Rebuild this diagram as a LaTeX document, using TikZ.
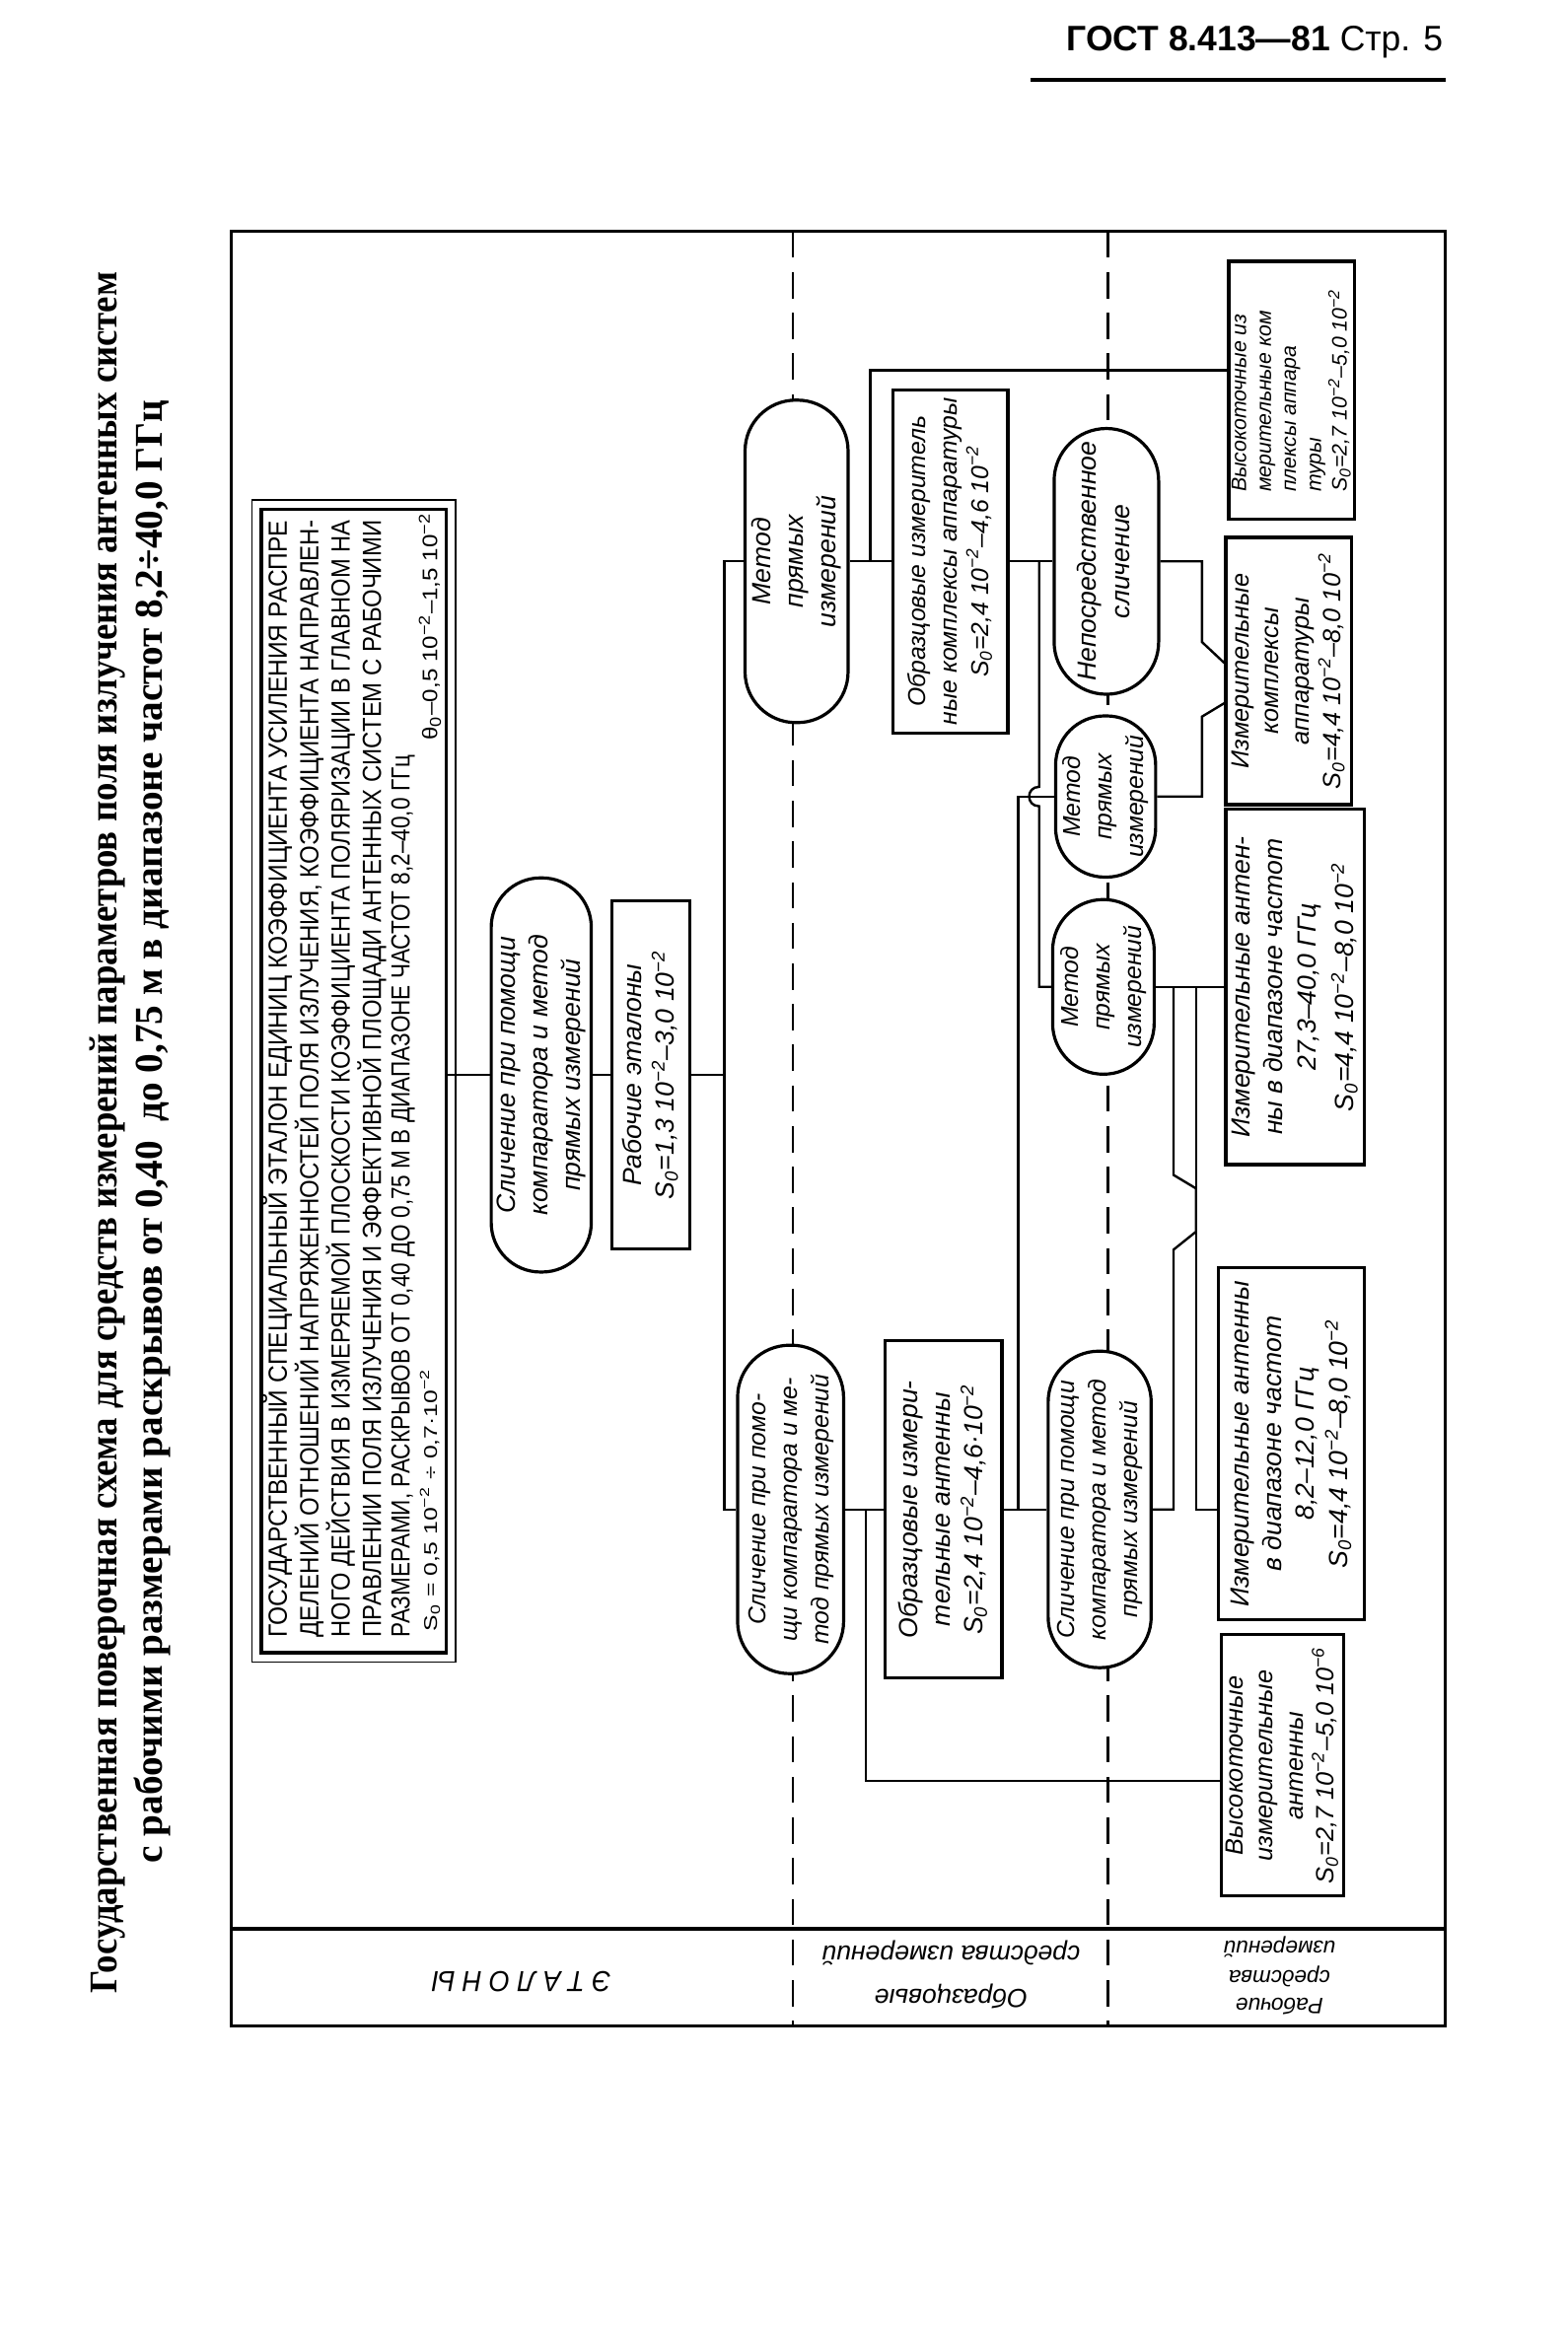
\documentclass[tikz,border=0pt]{standalone}
\usepackage{fontspec}
\usepackage{graphicx}
\setmainfont{Liberation Serif}
\newfontfamily\gostfam{Liberation Sans}
\newcommand\gost{\gostfam\itshape}
\newfontfamily\gostup{Liberation Sans}
\newfontfamily\hdr{Liberation Sans}
\newcommand\fitw[2]{\resizebox{#1}{\height}{#2}}
\newcommand\U[1]{\dimexpr 0.2mm*#1\relax}
\newcommand\sm[1]{\textsuperscript{−#1}}
\newcommand\So{S\textsubscript{0}}
\newcommand\rt[1]{\rotatebox{90}{\begin{tabular}{@{}c@{}}#1\end{tabular}}}
\newcommand\rtl[1]{\rotatebox{90}{\begin{tabular}{@{}l@{}}#1\end{tabular}}}
\def\uu{0.2mm}
\begin{document}
\begin{tikzpicture}[x=0.2mm,y=-0.2mm,
  bx/.style={draw,line width=1.2pt,fill=white,inner sep=0pt,font=\gost\fontsize{10}{12.5}\selectfont},
  ov/.style={bx,rounded corners=#1*\uu},
  sm/.style={font=\gost\fontsize{9.3}{12}\selectfont},
  ln/.style={line width=0.9pt},
  frm/.style={line width=1.3pt},
  dsh/.style={line width=1pt,dash pattern=on 10pt off 5.5pt},
  lab/.style={inner sep=0pt,rotate=180,font=\gost\fontsize{10}{12}\selectfont},
  mtxt/.style={inner sep=0pt,anchor=south,font=\gostup\fontsize{10}{12}\selectfont},
]
\fill[white] (0,0) rectangle (1050,1568);
\useasboundingbox (0,0) rectangle (1050,1568);

% header
\node[inner sep=0pt,anchor=base west,font=\hdr\fontsize{13.5}{14}\selectfont] (hd) at (714,34) {\fitw{\U{252}}{\bfseries ГОСТ 8.413—81 \mdseries Стр. 5}};
\draw[line width=1.7pt] (690,53.5) -- (968,53.5);

% title
\node[inner sep=0pt,font=\bfseries\fontsize{15}{16}\selectfont] (t1) at (72,758.5) {\rotatebox{90}{\fitw{\U{1153}}{Государственная поверочная схема для средств измерений параметров поля излучения антенных систем}}};
\node[inner sep=0pt,font=\bfseries\fontsize{15}{16}\selectfont] (t2) at (102,758) {\rotatebox{90}{\fitw{\U{980}}{с рабочими размерами раскрывов от 0,40~~до 0,75 м в диапазоне частот 8,2÷40,0 ГГц}}};

% frame
\draw[dsh] (531,155) -- (531,1357);
\draw[dsh] (742,155) -- (742,1357);
\draw[frm] (155,155) rectangle (968,1357);
\draw[frm] (155,1292) -- (968,1292);

% row labels (upside down)
\node[lab,font=\gost\fontsize{11}{12}\selectfont] (l1) at (349,1327) {\fitw{\U{120}}{Э Т А Л О Н Ы}};
\node[lab] (l2a) at (637,1308) {средства измерений};
\node[lab] (l2b) at (637,1337) {Образцовые};
\node[lab,font=\gost\fontsize{8.5}{10}\selectfont] (l3a) at (857,1304) {измерений};
\node[lab,font=\gost\fontsize{8.5}{10}\selectfont] (l3b) at (857,1324) {средства};
\node[lab,font=\gost\fontsize{8.5}{10}\selectfont] (l3c) at (857,1344) {Рабочие};

% main standard
\node[draw,line width=1.3pt,inner sep=0pt,minimum width=124*\uu,minimum height=766*\uu] (main) at (237,724) {};
\draw[line width=0.5pt] ([shift={(-5,-5)}]main.north west) rectangle ([shift={(5,5)}]main.south east);
\node[mtxt] (m1) at (186,1097) {\rotatebox{90}{\fitw{\U{748}}{ГОСУДАРСТВЕННЫЙ СПЕЦИАЛЬНЫЙ ЭТАЛОН ЕДИНИЦ КОЭФФИЦИЕНТА УСИЛЕНИЯ РАСПРЕ}}};
\node[mtxt] (m2) at (207,1097) {\rotatebox{90}{\fitw{\U{748}}{ДЕЛЕНИЙ ОТНОШЕНИЙ НАПРЯЖЕННОСТЕЙ ПОЛЯ ИЗЛУЧЕНИЯ, КОЭФФИЦИЕНТА НАПРАВЛЕН-}}};
\node[mtxt] (m3) at (228,1097) {\rotatebox{90}{\fitw{\U{748}}{НОГО ДЕЙСТВИЯ В ИЗМЕРЯЕМОЙ ПЛОСКОСТИ КОЭФФИЦИЕНТА ПОЛЯРИЗАЦИИ В ГЛАВНОМ НА}}};
\node[mtxt] (m4) at (249,1097) {\rotatebox{90}{\fitw{\U{748}}{ПРАВЛЕНИИ ПОЛЯ ИЗЛУЧЕНИЯ И ЭФФЕКТИВНОЙ ПЛОЩАДИ АНТЕННЫХ СИСТЕМ С РАБОЧИМИ}}};
\node[mtxt] (m5) at (270,1097) {\rotatebox{90}{\fitw{\U{591}}{РАЗМЕРАМИ, РАСКРЫВОВ ОТ 0,40 ДО 0,75 М В ДИАПАЗОНЕ ЧАСТОТ 8,2–40,0 ГГц}}};
\node[mtxt,font=\gostup\fontsize{7}{8}\selectfont] (m6) at (288,1093) {\rotatebox{90}{\fitw{\U{176}}{\So\ = 0,5 10\sm{2} ÷ 0,7·10\sm{2}}}};
\node[mtxt,font=\gostup\fontsize{8}{9}\selectfont] (m7) at (288,496) {\rotatebox{90}{\fitw{\U{152}}{θ\textsubscript{0}–0,5 10\sm{2}–1,5 10\sm{2}}}};

% nodes
\node[ov=33,minimum width=67*\uu,minimum height=264*\uu] (O1) at (362.5,720) {\rt{Сличение при помощи\\компаратора и метод\\прямых измерений}};
\node[bx,minimum width=52*\uu,minimum height=233*\uu] (B1) at (436,720) {\rt{Рабочие эталоны\\\So=1,3 10\sm{2}–3,0 10\sm{2}}};
\node[ov=34,minimum width=69*\uu,minimum height=216*\uu] (M1) at (533.5,376) {\rt{Метод\\прямых\\измерений}};
\node[ov=35,sm,minimum width=71*\uu,minimum height=220*\uu] (O2) at (529.5,1011) {\rt{Сличение при помо-\\щи компаратора и ме-\\тод прямых измерений}};
\node[bx,sm,minimum width=77*\uu,minimum height=230*\uu] (B3) at (636.5,376) {\rt{Образцовые измеритель\\ные комплексы аппаратуры\\\So=2,4 10\sm{2}–4,6 10\sm{2}}};
\node[bx,minimum width=78*\uu,minimum height=226*\uu] (B2) at (632,1011) {\rt{Образцовые измери-\\тельные антенны\\\So=2,4 10\sm{2}–4,6·10\sm{2}}};
\node[ov=35,minimum width=70*\uu,minimum height=178*\uu] (N) at (741,376) {\rt{Непосредственное\\сличение}};
\node[ov=33,sm,minimum width=67*\uu,minimum height=108*\uu] (M2) at (740.5,533.5) {\rt{Метод\\прямых\\измерений}};
\node[ov=34,sm,minimum width=68*\uu,minimum height=117*\uu] (M3) at (739,661) {\rt{Метод\\прямых\\измерений}};
\node[ov=34,sm,minimum width=69*\uu,minimum height=212*\uu] (O3) at (736.5,1011) {\rt{Сличение при помощи\\компаратора и метод\\прямых измерений}};
\node[bx,font=\gost\fontsize{8}{9.5}\selectfont,minimum width=84*\uu,minimum height=173*\uu] (B7) at (865,261.5) {\rtl{Высокоточные из\\мерительные ком\\плексы аппара\\туры\\\So=2,7 10\sm{2}–5,0 10\sm{2}}};
\node[bx,font=\gost\fontsize{9.5}{11.5}\selectfont,minimum width=84*\uu,minimum height=179*\uu] (B8) at (863,449.5) {\rt{Измерительные\\комплексы\\аппаратуры\\\So=4,4 10\sm{2}–8,0 10\sm{2}}};
\node[bx,minimum width=93*\uu,minimum height=238*\uu] (B6) at (867.5,661) {\rt{Измерительные антен-\\ны в диапазоне частот\\27,3–40,0 ГГц\\[2pt]\So=4,4 10\sm{2}–8,0 10\sm{2}}};
\node[bx,minimum width=98*\uu,minimum height=236*\uu] (B5) at (865,967) {\rt{Измерительные антенны\\в диапазоне частот\\8,2–12,0 ГГц\\\So=4,4 10\sm{2}–8,0 10\sm{2}}};
\node[bx,font=\gost\fontsize{9.5}{11.4}\selectfont,minimum width=82*\uu,minimum height=175*\uu] (B4) at (859,1182.5) {\rt{Высокоточные\\измерительные\\антенны\\\So=2,7 10\sm{2}–5,0 10\sm{6}}};

% junctions
\coordinate (jA) at (485,720);
\coordinate (jA1) at (485,376);
\coordinate (jA2) at (485,1011);
\coordinate (jB) at (583,376);
\coordinate (jB1) at (583,248);
\coordinate (jP) at (696,376);
\coordinate (jQ) at (682,1011);
\coordinate (jN) at (805,376);
\coordinate (jMa) at (786,661);
\coordinate (jMb) at (801,661);
\coordinate (jO) at (580,1011);

% connectors
\draw[ln] (main.east |- O1.west) -- (O1.west);
\draw[ln] (O1.east) -- (B1.west);
\draw[ln] (B1.east) -- (jA);
\draw[ln] (M1.west) -- (jA1) -- (jA2) -- (O2.west);
\draw[ln] (M1.east) -- (B3.west);
\draw[ln] (jB) -- (jB1) -- (B7.west |- jB1);
\draw[ln] (B3.east) -- (N.west);
\draw[ln] (jP) -- (696,527) .. controls (687,527) and (687,540) .. (696,540) -- (696,661) -- (M3.west);
\draw[ln] (jQ) -- (682,533.5) -- (M2.west);
\draw[ln] (N.east) -- (jN) -- (805,430) -- (B8.west |- 0,444);
\draw[ln] (B8.west |- 0,471) -- (805,480) -- (805,533.5) -- (M2.east);
\draw[ln] (M3.east) -- (B6.west |- M3.east);
\draw[ln] (jMa) -- (786,787) -- (801,796) -- (801,825) -- (786,837) -- (786,1011) -- (O3.east);
\draw[ln] (jMb) -- (801,1011) -- (B5.west |- 0,1011);
\draw[ln] (O2.east) -- (B2.west);
\draw[ln] (B2.east) -- (O3.west);
\draw[ln] (jO) -- (580,1193) -- (B4.west |- 0,1193);
\end{tikzpicture}
\end{document}
